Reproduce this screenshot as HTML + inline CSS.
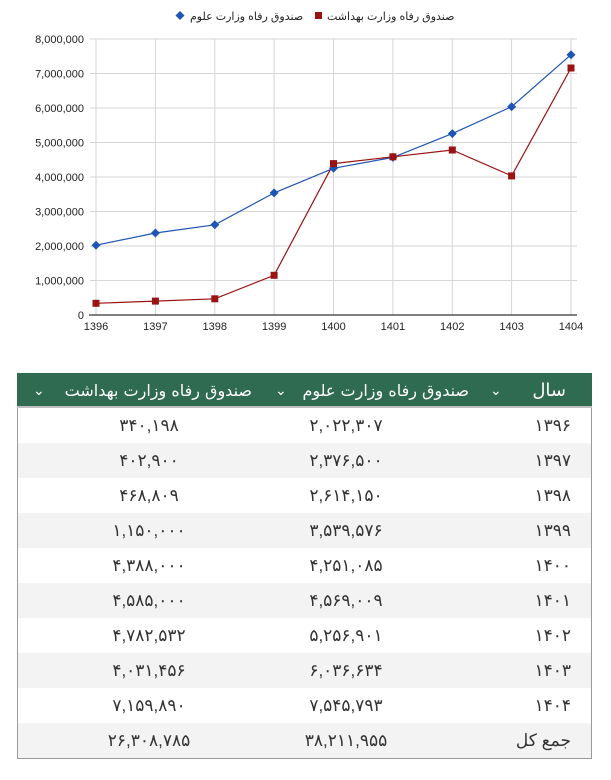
<!DOCTYPE html>
<html><head><meta charset="utf-8"><style>
body{margin:0;width:611px;height:780px;background:#fff;position:relative;overflow:hidden;font-family:"Liberation Sans","Noto Sans CJK SC",sans-serif}
.t{position:absolute;white-space:nowrap}
.hdr{position:absolute;left:17px;top:373px;width:575px;height:35px;background:#2f6b50;border-bottom:2px solid #bfbfbf;box-sizing:border-box}
.row{position:absolute;left:17px;width:575px;height:35px;border-left:1px solid #999;border-right:1px solid #999;box-sizing:border-box}
.c{position:absolute;top:0;line-height:35px;font-size:17px;color:#333;direction:rtl}
</style></head><body>
<svg width="611" height="340" style="position:absolute;left:0;top:0" font-family="Liberation Sans, sans-serif">
<g stroke="#d6d6d6" stroke-width="1">
<line x1="90" y1="39" x2="577" y2="39"/><line x1="90" y1="73.5" x2="577" y2="73.5"/><line x1="90" y1="108" x2="577" y2="108"/><line x1="90" y1="142.5" x2="577" y2="142.5"/><line x1="90" y1="177" x2="577" y2="177"/><line x1="90" y1="211.5" x2="577" y2="211.5"/><line x1="90" y1="246" x2="577" y2="246"/><line x1="90" y1="280.5" x2="577" y2="280.5"/>
<line x1="96" y1="39" x2="96" y2="315"/><line x1="155.4" y1="39" x2="155.4" y2="315"/><line x1="214.8" y1="39" x2="214.8" y2="315"/><line x1="274.1" y1="39" x2="274.1" y2="315"/><line x1="333.5" y1="39" x2="333.5" y2="315"/><line x1="392.9" y1="39" x2="392.9" y2="315"/><line x1="452.3" y1="39" x2="452.3" y2="315"/><line x1="511.6" y1="39" x2="511.6" y2="315"/><line x1="571" y1="39" x2="571" y2="315"/>
</g>
<line x1="89" y1="315" x2="577" y2="315" stroke="#333" stroke-width="1.2"/>
<g font-size="11" fill="#222" text-anchor="end">
<text x="84" y="43">8,000,000</text><text x="84" y="77.5">7,000,000</text><text x="84" y="112">6,000,000</text><text x="84" y="146.5">5,000,000</text><text x="84" y="181">4,000,000</text><text x="84" y="215.5">3,000,000</text><text x="84" y="250">2,000,000</text><text x="84" y="284.5">1,000,000</text><text x="84" y="319">0</text>
</g>
<g font-size="11" fill="#222" text-anchor="middle">
<text x="96" y="330">1396</text><text x="155.4" y="330">1397</text><text x="214.8" y="330">1398</text><text x="274.1" y="330">1399</text><text x="333.5" y="330">1400</text><text x="392.9" y="330">1401</text><text x="452.3" y="330">1402</text><text x="511.6" y="330">1403</text><text x="571" y="330">1404</text>
</g>
<polyline fill="none" stroke="#1f55b5" stroke-width="1.2" points="96,245.2 155.4,233 214.8,224.8 274.1,192.9 333.5,168.3 392.9,157.4 452.3,133.6 511.6,106.7 571,54.7"/>
<polyline fill="none" stroke="#9b1212" stroke-width="1.2" points="96,303.3 155.4,301.1 214.8,298.8 274.1,275.3 333.5,163.6 392.9,156.8 452.3,150 511.6,175.9 571,68"/>
<g fill="#1f55b5">
<path d="M96 240.7l4.5 4.5-4.5 4.5-4.5-4.5z"/><path d="M155.4 228.5l4.5 4.5-4.5 4.5-4.5-4.5z"/><path d="M214.8 220.3l4.5 4.5-4.5 4.5-4.5-4.5z"/><path d="M274.1 188.4l4.5 4.5-4.5 4.5-4.5-4.5z"/><path d="M333.5 163.8l4.5 4.5-4.5 4.5-4.5-4.5z"/><path d="M392.9 152.9l4.5 4.5-4.5 4.5-4.5-4.5z"/><path d="M452.3 129.1l4.5 4.5-4.5 4.5-4.5-4.5z"/><path d="M511.6 102.2l4.5 4.5-4.5 4.5-4.5-4.5z"/><path d="M571 50.2l4.5 4.5-4.5 4.5-4.5-4.5z"/>
</g>
<g fill="#9b1212">
<rect x="92.5" y="299.8" width="7" height="7"/><rect x="151.9" y="297.6" width="7" height="7"/><rect x="211.3" y="295.3" width="7" height="7"/><rect x="270.6" y="271.8" width="7" height="7"/><rect x="330" y="160.1" width="7" height="7"/><rect x="389.4" y="153.3" width="7" height="7"/><rect x="448.8" y="146.5" width="7" height="7"/><rect x="508.1" y="172.4" width="7" height="7"/><rect x="567.5" y="64.5" width="7" height="7"/>
</g>
<path d="M180 11l4.5 4.5-4.5 4.5-4.5-4.5z" fill="#1f55b5"/>
<text x="190" y="20" font-size="11" fill="#222" font-family="Liberation Sans, DejaVu Sans, sans-serif">صندوق رفاه وزارت علوم</text>
<rect x="315" y="12" width="7" height="7" fill="#9b1212"/>
<text x="327" y="20" font-size="11" fill="#222" font-family="Liberation Sans, DejaVu Sans, sans-serif">صندوق رفاه وزارت بهداشت</text>
</svg>

<div class="hdr">
<div class="t" style="right:26px;top:0;line-height:35px;color:#fff;font-size:18px;font-family:'DejaVu Sans',sans-serif">سال</div>
<div class="t" style="left:473px;top:0;line-height:35px;color:#fff;font-size:14px">⌄</div>
<div class="t" style="right:123px;top:0;line-height:35px;color:#fff;font-size:16px;font-family:'DejaVu Sans',sans-serif">صندوق رفاه وزارت علوم</div>
<div class="t" style="left:258px;top:0;line-height:35px;color:#fff;font-size:14px">⌄</div>
<div class="t" style="right:340px;top:0;line-height:35px;color:#fff;font-size:16px;font-family:'DejaVu Sans',sans-serif">صندوق رفاه وزارت بهداشت</div>
<div class="t" style="left:16px;top:0;line-height:35px;color:#fff;font-size:14px">⌄</div>
</div>

<div class="row" style="top:408px;background:#fff"><div class="c" style="right:20px">۱۳۹۶</div><div class="c" style="left:278px;width:100px;text-align:center">۲,۰۲۲,۳۰۷</div><div class="c" style="left:81px;width:100px;text-align:center">۳۴۰,۱۹۸</div></div>
<div class="row" style="top:443px;background:#f3f3f3"><div class="c" style="right:20px">۱۳۹۷</div><div class="c" style="left:278px;width:100px;text-align:center">۲,۳۷۶,۵۰۰</div><div class="c" style="left:81px;width:100px;text-align:center">۴۰۲,۹۰۰</div></div>
<div class="row" style="top:478px;background:#fff"><div class="c" style="right:20px">۱۳۹۸</div><div class="c" style="left:278px;width:100px;text-align:center">۲,۶۱۴,۱۵۰</div><div class="c" style="left:81px;width:100px;text-align:center">۴۶۸,۸۰۹</div></div>
<div class="row" style="top:513px;background:#f3f3f3"><div class="c" style="right:20px">۱۳۹۹</div><div class="c" style="left:278px;width:100px;text-align:center">۳,۵۳۹,۵۷۶</div><div class="c" style="left:81px;width:100px;text-align:center">۱,۱۵۰,۰۰۰</div></div>
<div class="row" style="top:548px;background:#fff"><div class="c" style="right:20px">۱۴۰۰</div><div class="c" style="left:278px;width:100px;text-align:center">۴,۲۵۱,۰۸۵</div><div class="c" style="left:81px;width:100px;text-align:center">۴,۳۸۸,۰۰۰</div></div>
<div class="row" style="top:583px;background:#f3f3f3"><div class="c" style="right:20px">۱۴۰۱</div><div class="c" style="left:278px;width:100px;text-align:center">۴,۵۶۹,۰۰۹</div><div class="c" style="left:81px;width:100px;text-align:center">۴,۵۸۵,۰۰۰</div></div>
<div class="row" style="top:618px;background:#fff"><div class="c" style="right:20px">۱۴۰۲</div><div class="c" style="left:278px;width:100px;text-align:center">۵,۲۵۶,۹۰۱</div><div class="c" style="left:81px;width:100px;text-align:center">۴,۷۸۲,۵۳۲</div></div>
<div class="row" style="top:653px;background:#f3f3f3"><div class="c" style="right:20px">۱۴۰۳</div><div class="c" style="left:278px;width:100px;text-align:center">۶,۰۳۶,۶۳۴</div><div class="c" style="left:81px;width:100px;text-align:center">۴,۰۳۱,۴۵۶</div></div>
<div class="row" style="top:688px;background:#fff"><div class="c" style="right:20px">۱۴۰۴</div><div class="c" style="left:278px;width:100px;text-align:center">۷,۵۴۵,۷۹۳</div><div class="c" style="left:81px;width:100px;text-align:center">۷,۱۵۹,۸۹۰</div></div>
<div class="row" style="top:723px;height:36px;background:#f3f3f3;border-bottom:1px solid #999"><div class="c" style="right:20px">جمع کل</div><div class="c" style="left:278px;width:100px;text-align:center">۳۸,۲۱۱,۹۵۵</div><div class="c" style="left:81px;width:100px;text-align:center">۲۶,۳۰۸,۷۸۵</div></div>
</body></html>
